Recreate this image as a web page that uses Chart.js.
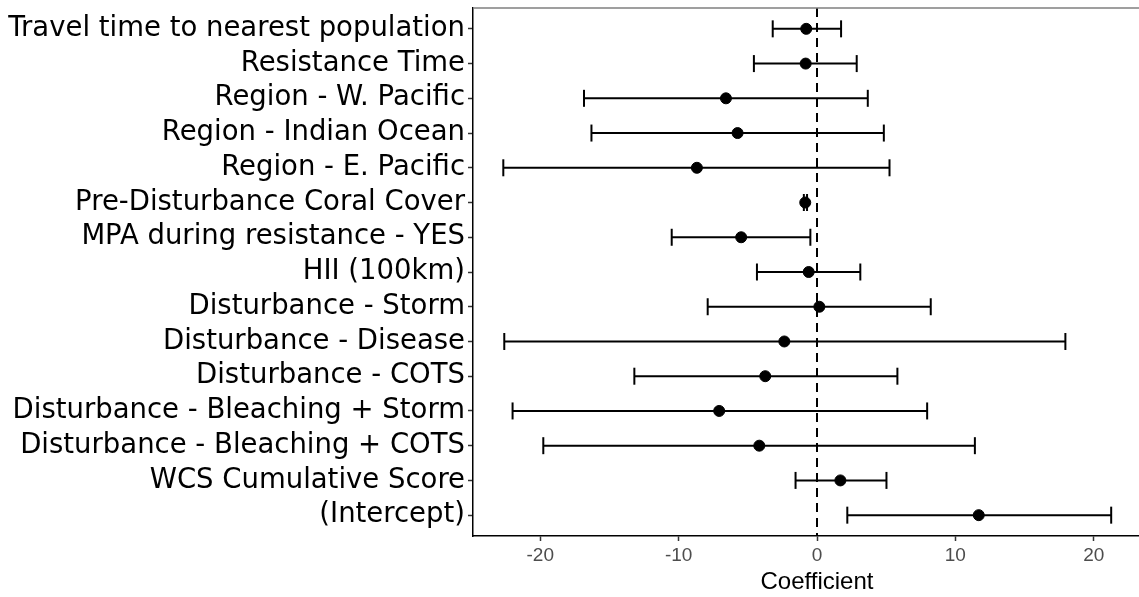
<!DOCTYPE html>
<html>
<head>
<meta charset="utf-8">
<script src="https://cdn.jsdelivr.net/npm/chart.js@4"></script>
<style>
  html, body { margin: 0; padding: 0; background: #ffffff; overflow: hidden; }
  #wrap { width: 1139px; height: 597px; overflow: hidden; position: relative; }
  #c { display: block; }
</style>
</head>
<body>
<div id="wrap"><canvas id="c" width="1161" height="597"></canvas></div>
<script>
const categories = [
  "Travel time to nearest population",
  "Resistance Time",
  "Region - W. Pacific",
  "Region - Indian Ocean",
  "Region - E. Pacific",
  "Pre-Disturbance Coral Cover",
  "MPA during resistance - YES",
  "HII (100km)",
  "Disturbance - Storm",
  "Disturbance - Disease",
  "Disturbance - COTS",
  "Disturbance - Bleaching + Storm",
  "Disturbance - Bleaching + COTS",
  "WCS Cumulative Score",
  "(Intercept)"
];
const estimate = [-0.78, -0.82, -6.58, -5.74, -8.68, -0.85, -5.48, -0.60, 0.17, -2.36, -3.74, -7.07, -4.17, 1.69, 11.69];
const lower    = [-3.20, -4.56, -16.84, -16.30, -22.67, -0.95, -10.50, -4.34, -7.90, -22.60, -13.20, -22.00, -19.78, -1.55, 2.19];
const upper    = [1.74, 2.87, 3.67, 4.83, 5.24, -0.72, -0.48, 3.13, 8.22, 17.95, 5.81, 7.96, 11.41, 5.02, 21.26];
const xTicks = [-20, -10, 0, 10, 20];
const xTitle = "Coefficient";

const rowIndex = categories.map((_, i) => i + 1);

const errorBarSets = rowIndex.map((r, i) => ({
  type: 'line',
  data: [{ x: lower[i], y: r }, { x: upper[i], y: r }],
  borderColor: '#000000',
  borderWidth: 2,
  pointStyle: 'line',
  rotation: 90,
  pointRadius: 8.5,
  pointBorderWidth: 2,
  pointBorderColor: '#000000',
  pointHoverRadius: 8.5,
  fill: false,
  order: 2
}));

const zeroLine = {
  type: 'line',
  data: [{ x: 0, y: 0.4 }, { x: 0, y: 15.6 }],
  borderColor: '#000000',
  borderWidth: 2,
  borderDash: [9, 6],
  pointRadius: 0,
  fill: false,
  order: 3
};

const pointSet = {
  type: 'scatter',
  data: rowIndex.map((r, i) => ({ x: estimate[i], y: r })),
  backgroundColor: '#000000',
  borderColor: '#000000',
  pointRadius: 5.5,
  pointHoverRadius: 5.5,
  order: 1
};

const topBorder = {
  id: 'topBorder',
  afterDraw(chart) {
    const { ctx, chartArea } = chart;
    ctx.save();
    ctx.strokeStyle = '#7f7f7f';
    ctx.lineWidth = 1.5;
    ctx.beginPath();
    ctx.moveTo(chartArea.left, chartArea.top);
    ctx.lineTo(chartArea.right, chartArea.top);
    ctx.stroke();
    ctx.restore();
  }
};

new Chart(document.getElementById('c'), {
  data: { datasets: [pointSet, ...errorBarSets, zeroLine] },
  options: {
    responsive: false,
    animation: false,
    layout: { autoPadding: false, padding: { top: 8, right: 0, left: 0, bottom: 0 } },
    plugins: { legend: { display: false }, tooltip: { enabled: false } },
    scales: {
      x: {
        type: 'linear',
        min: -24.86,
        max: 24.86,
        afterBuildTicks(scale) { scale.ticks = xTicks.map(v => ({ value: v })); },
        afterFit(scale) { scale.height = 61; scale.paddingLeft = 0; scale.paddingRight = 0; },
        grid: { drawOnChartArea: false, drawTicks: true, tickLength: 5, color: '#333333', tickWidth: 1.5 },
        border: { display: true, color: '#000000', width: 1.5 },
        ticks: { color: '#4d4d4d', font: { family: 'Liberation Sans', size: 19 }, padding: 3, maxRotation: 0 },
        title: { display: true, text: xTitle, color: '#000000', font: { family: 'Liberation Sans', size: 24 }, padding: { top: 0, bottom: 0 } }
      },
      y: {
        type: 'linear',
        reverse: true,
        min: 0.4,
        max: 15.6,
        afterBuildTicks(scale) { scale.ticks = rowIndex.map(v => ({ value: v })); },
        afterFit(scale) { scale.width = 473; scale.paddingTop = 0; scale.paddingBottom = 0; },
        grid: { drawOnChartArea: false, drawTicks: true, tickLength: 5, color: '#333333', tickWidth: 1.5 },
        border: { display: true, color: '#000000', width: 1.5 },
        ticks: {
          color: '#000000',
          font: { family: 'DejaVu Sans', size: 27.5 },
          padding: 3,
          autoSkip: false,
          callback: (v) => categories[v - 1]
        }
      }
    }
  },
  plugins: [topBorder]
});
</script>
</body>
</html>
